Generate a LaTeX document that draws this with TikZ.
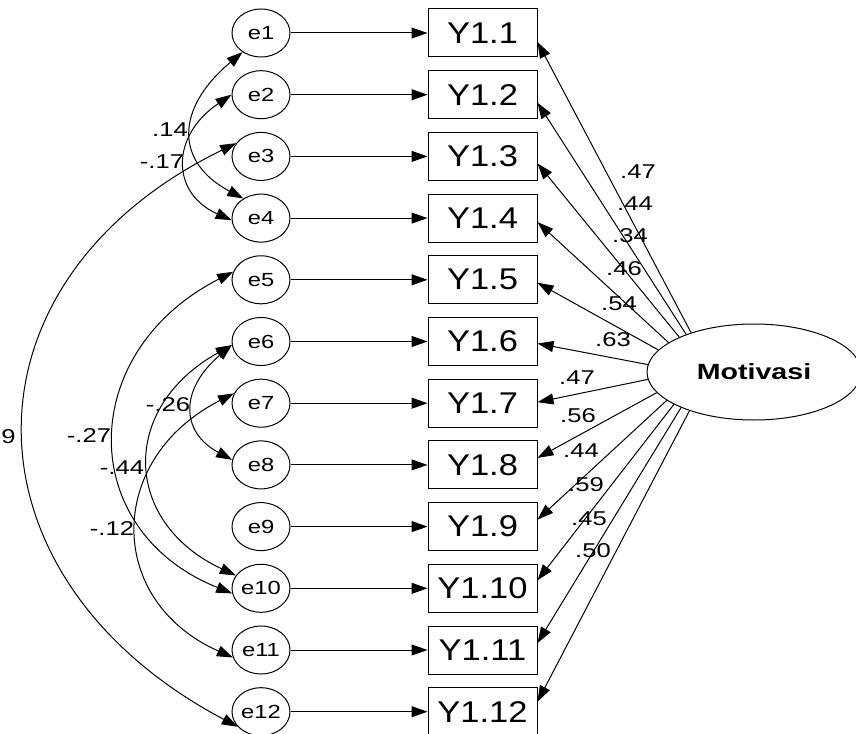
\documentclass[tikz,border=0pt]{standalone}
\usepackage{fontspec}
\setmainfont{Liberation Sans}
\usepackage{graphicx}
\usetikzlibrary{shapes.geometric,arrows.meta}
\newcommand\hst[2]{\scalebox{#1}[1]{#2}}
\begin{document}
\begin{tikzpicture}[x=1pt,y=1pt,line width=1pt,
  >={Triangle[length=16pt,width=11pt]},
  err/.style={ellipse,draw,minimum width=58pt,minimum height=48pt,inner sep=0pt,font=\fontsize{19}{19}\selectfont},
  obs/.style={rectangle,draw,minimum width=109pt,minimum height=48pt,inner sep=0pt,font=\fontsize{30}{30}\selectfont},
  lat/.style={ellipse,draw,minimum width=214pt,minimum height=96pt,inner sep=0pt,font=\bfseries\fontsize{22}{22}\selectfont},
  coef/.style={inner sep=0pt,font=\fontsize{20}{20}\selectfont}]
\useasboundingbox (0,0) rectangle (856,-733);
\foreach \i in {1,...,12}{
  \pgfmathsetmacro\yy{33+61.7*(\i-1)}
  \node[err] (e\i) at (261,-\yy) {\hst{1.25}{e\i}};
  \node[obs] (y\i) at (482.5,-\yy) {\hst{1.15}{Y1.\i}};
  \draw[->] (e\i) -- (y\i);
}
\node[lat] (M) at (754,-372) {\hst{1.3}{Motivasi}};
\foreach \i/\a/\s in {1/148.4/-9, 2/151.8/-8, 3/155.8/-7, 4/161/-4, 5/167.2/-3, 6/176.2/-2, 7/184.3/1, 8/192.2/7, 9/198.4/7, 10/202.7/8, 11/206.6/7, 12/211.6/10}
  \draw[->] (M.\a) -- ([yshift=\s pt]y\i.east);
% loading labels
\foreach \t/\x/\y [count=\k] in {.47/638/172, .44/635/204, .34/630/236, .46/624/269, .54/619/304, .63/613/340, .47/577/378, .56/578/416, .44/581/451, .59/586/485, .45/589/519, .50/593/551}
  \node[coef] (l\k) at (\x,-\y) {\hst{1.28}{\t}};
% covariances
\draw[<->] (e1.226) .. controls +(-68,-57) and +(-68,36) .. (e4.132);
\draw[<->] (e2.180) .. controls +(-61,-41) and +(-61,27) .. (e4.184);
\draw[<->] (e3.152) .. controls +(-283,-138) and +(-283,150) .. (e12.213);
\draw[<->] (e5.164) .. controls +(-157,-80) and +(-157,63) .. (e10.190);
\draw[<->] (e6.187) .. controls +(-113,-63) and +(-113,53) .. (e10.153);
\draw[<->] (e6.187) .. controls +(-52,-44) and +(-52,28) .. (e8.170);
\draw[<->] (e7.160) .. controls +(-128,-65) and +(-128,57) .. (e11.195);
\node[coef] (c14) at (170,-130) {\hst{1.28}{.14}};
\node[coef] (c17) at (162,-162) {\hst{1.28}{-.17}};
\node[coef,anchor=east] (c09) at (16,-437) {\hst{1.28}{9}};
\node[coef] (c27) at (89,-436) {\hst{1.28}{-.27}};
\node[coef] (c26) at (168,-405) {\hst{1.28}{-.26}};
\node[coef] (c44) at (122,-468) {\hst{1.28}{-.44}};
\node[coef] (c12) at (112,-529) {\hst{1.28}{-.12}};
\end{tikzpicture}
\end{document}
